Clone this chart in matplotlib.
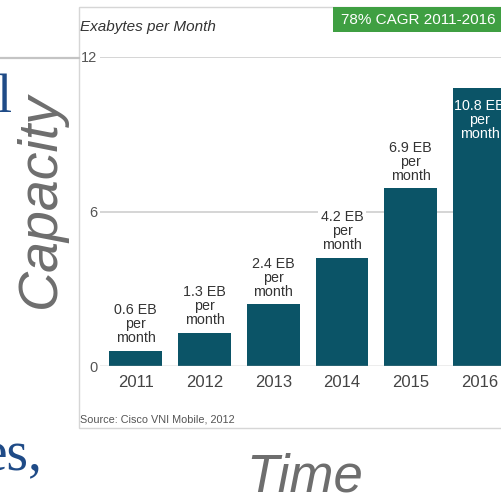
import matplotlib
matplotlib.use("Agg")
import matplotlib.pyplot as plt
from matplotlib.patches import Rectangle
from matplotlib.lines import Line2D

years = ["2011", "2012", "2013", "2014", "2015", "2016"]
values = [0.6, 1.3, 2.4, 4.2, 6.9, 10.8]
labels = ["0.6 EB\nper\nmonth", "1.3 EB\nper\nmonth", "2.4 EB\nper\nmonth",
          "4.2 EB\nper\nmonth", "6.9 EB\nper\nmonth", "10.8 EB\nper\nmonth"]
yticks = [0, 6, 12]

W, H = 502, 500
plt.rcParams['font.family'] = ['Liberation Sans', 'DejaVu Sans']
fig = plt.figure(figsize=(W / 100, H / 100), dpi=100)
fig.patch.set_facecolor('white')

def fx(px):
    return px / W

def fy(py):
    return 1 - py / H

# chart panel border
fig.patches.append(Rectangle((fx(79), fy(428)), fx(600) - fx(79), fy(7) - fy(428),
                             transform=fig.transFigure, facecolor='white',
                             edgecolor='#d6d6d6', linewidth=1.0, zorder=-2))
# slide rule on the left
fig.lines.append(Line2D([0, fx(79)], [fy(57.5), fy(57.5)], transform=fig.transFigure,
                        color='#c4c4c4', linewidth=1.6))

# green CAGR box
fig.patches.append(Rectangle((fx(333), fy(32)), fx(520) - fx(333), fy(7) - fy(32),
                             transform=fig.transFigure, facecolor='#3f9f42',
                             edgecolor='none', zorder=2))
fig.text(fx(341), fy(19.5), "78% CAGR 2011-2016", color='white', fontsize=11,
         ha='left', va='center', zorder=3)

fig.text(fx(80), fy(27), "Exabytes per Month", color='#333333', fontsize=11,
         style='italic', ha='left', va='center')
fig.text(fx(80), fy(420), "Source: Cisco VNI Mobile, 2012", color='#555555',
         fontsize=7.8, ha='left', va='center')

# axes
ax = fig.add_axes([fx(100), fy(366), fx(502) - fx(100), fy(57) - fy(366)])
ax.set_facecolor('none')
x = list(range(len(years)))
ax.bar(x, values, width=0.77, color='#0b5467', zorder=3)
ax.set_xlim(-0.52, 5.327)
ax.set_ylim(0, 12)
ax.set_yticks(yticks)
ax.set_yticklabels([str(t) for t in yticks])
ax.set_xticks(x)
ax.set_xticklabels(years)
for s in ax.spines.values():
    s.set_visible(False)
ax.tick_params(axis='y', length=0, pad=2, labelsize=10.5, labelcolor='#555555')
ax.tick_params(axis='x', length=0, pad=6.5, labelsize=12, labelcolor='#444444')
for t in [6, 12]:
    ax.axhline(t, color='#d2d2d2', linewidth=1.3, zorder=1)
ax.axhline(0, color='#a8a8a8', linewidth=1.0, zorder=4)

for i, (v, lab) in enumerate(zip(values, labels)):
    if i == len(values) - 1:
        ax.annotate(lab, (i, v), xytext=(0, -8), textcoords='offset points',
                    ha='center', va='top', fontsize=10.3, color='white',
                    linespacing=1.0, zorder=5, annotation_clip=False)
    else:
        ax.annotate(lab, (i, v), xytext=(0, 4), textcoords='offset points',
                    ha='center', va='bottom', fontsize=10.3, color='#333333',
                    linespacing=1.0, zorder=5, annotation_clip=False,
                    bbox=dict(boxstyle='square,pad=0.15', facecolor='white',
                              edgecolor='none'))

# slide text around the chart
slide_blue = '#1f4b87'
fig.text(fx(12), fy(112), "l", fontsize=39, color=slide_blue, ha='right',
         va='baseline', family='Liberation Serif')
fig.text(fx(43), fy(470), "es,", fontsize=40, color=slide_blue, ha='right',
         va='baseline', family='Liberation Serif')
fig.text(fx(41), fy(200), "Capacity", fontsize=40, color='#6e6e6e', style='italic',
         rotation=90, ha='center', va='center')
fig.text(fx(305), fy(478), "Time", fontsize=38, color='#6e6e6e', style='italic',
         ha='center', va='center')

fig.savefig('out.png', dpi=100)
